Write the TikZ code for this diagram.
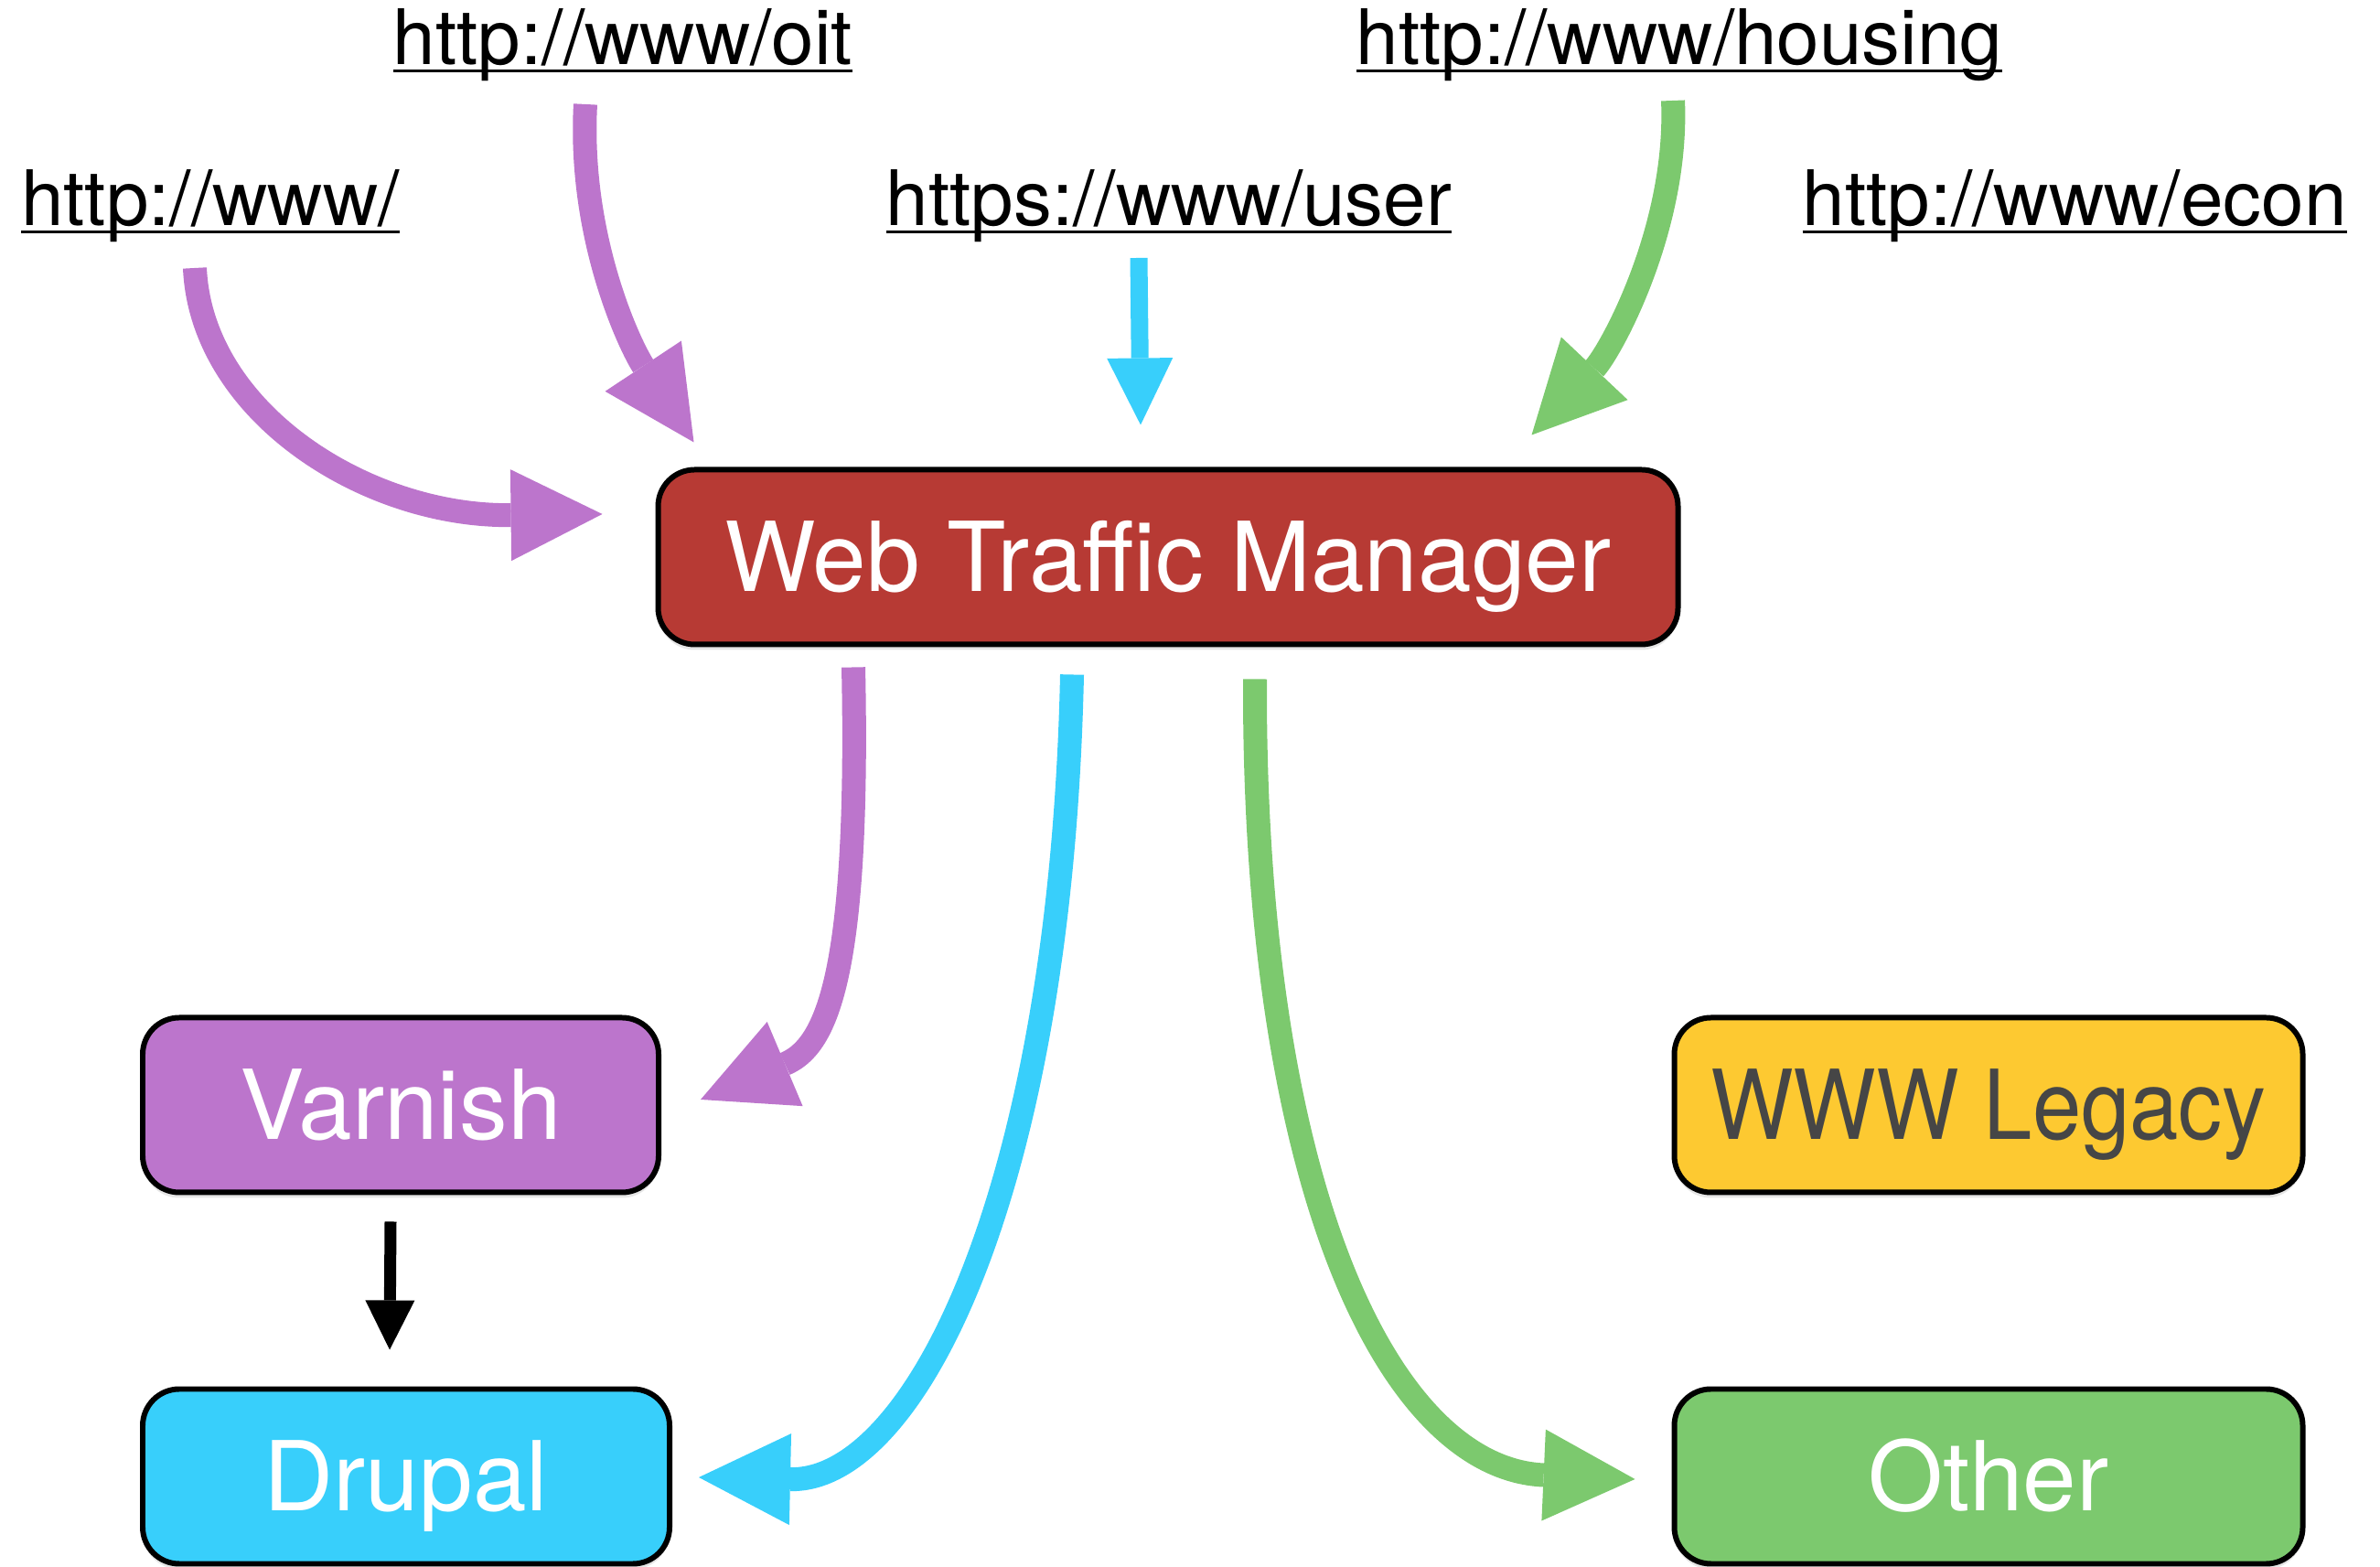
\documentclass[tikz,border=0pt]{standalone}
\usepackage{fontspec}
\setmainfont{TeX Gyre Heros}
\usetikzlibrary{arrows.meta,calc,shadows}
\definecolor{wtmred}{RGB}{183,58,52}
\definecolor{varnishpurple}{RGB}{188,117,204}
\definecolor{drupalblue}{RGB}{56,207,251}
\definecolor{othergreen}{RGB}{124,201,110}
\definecolor{legacyyellow}{RGB}{253,201,49}
\definecolor{legacygray}{RGB}{70,70,70}
\newcommand{\ulink}[1]{\setbox0\hbox{#1}\rlap{\rule[-0.08cm]{\wd0}{0.033cm}}\box0}
\begin{document}
\begin{tikzpicture}[
  url/.style={anchor=base,inner sep=0pt,font=\fontsize{23.8}{28}\selectfont},
  tbox/.style={draw=black,line width=1.7pt,rounded corners=0.4cm,minimum height=1.91cm,
    text height=0.76cm,text depth=0pt,inner sep=0pt,font=\fontsize{30}{36}\selectfont,text=white,
    drop shadow={shadow xshift=0pt,shadow yshift=-0.06cm,opacity=0.2}},
  fat/.style={line width=0.26cm,-{Triangle[length=1cm,width=1cm,line width=0pt]}},
]
\useasboundingbox (0,0) rectangle (26.02,17.13);
%
\node[url] (www) at (2.30,14.66) {\ulink{http://www/}};
\node[url] (oit) at (6.81,16.42) {\ulink{http://www/oit}};
\node[url] (user) at (12.78,14.66) {\ulink{https://www/user}};
\node[url] (housing) at (18.36,16.42) {\ulink{http://www/housing}};
\node[url] (econ) at (22.68,14.66) {\ulink{http://www/econ}};
%
\node[tbox,fill=wtmred,minimum width=11.15cm] (wtm) at (12.77,11.04) {Web Traffic Manager};
\node[tbox,fill=varnishpurple,minimum width=5.64cm] (varnish) at (4.38,5.05) {Varnish};
\node[tbox,fill=drupalblue,minimum width=5.76cm] (drupal) at (4.44,0.99) {Drupal};
\node[tbox,fill=legacyyellow,text=legacygray,minimum width=6.87cm] (legacy) at (21.74,5.05) {\scalebox{0.91}[1]{WWW Legacy}};
\node[tbox,fill=othergreen,minimum width=6.87cm] (other) at (21.74,0.99) {Other};
%
\draw[fat,varnishpurple] ($(www.base)+(-0.17,-0.46)$) .. controls +(0.07,-1.57) and +(-2.59,-0.03) .. ($(wtm.west)+(-0.58,0.47)$);
\draw[fat,varnishpurple] ($(oit.base)+(-0.41,-0.43)$) .. controls +(-0.08,-1.46) and +(-0.69,1.04) .. ($(wtm.north west)+(0.42,0.27)$);
\draw[drupalblue,line width=0.19cm,-{Triangle[length=0.73cm,width=0.72cm,line width=0pt]}] ($(user.base)+(-0.33,-0.35)$) -- ($(wtm.north)+(-0.30,0.46)$);
\draw[fat,othergreen] ($(housing.base)+(-0.07,-0.39)$) .. controls +(0.06,-1.40) and +(0.86,0.91) .. ($(wtm.north east)+(-1.63,0.35)$);
%
\draw[fat,varnishpurple] ($(wtm.south)+(-3.44,-0.22)$) .. controls +(0.07,-3.46) and +(1.35,0.57) .. ($(varnish.east)+(0.43,0.06)$);
\draw[fat,drupalblue] ($(wtm.south)+(-1.05,-0.30)$) .. controls +(-0.12,-5.63) and +(2.36,-0.05) .. ($(drupal.east)+(0.29,-0.01)$);
\draw[fat,othergreen] ($(wtm.south)+(0.95,-0.35)$) .. controls +(-0.02,-5.58) and +(-2.68,0.12) .. ($(other.west)+(-0.40,-0.03)$);
\draw[line width=0.13cm,-{Triangle[length=0.54cm,width=0.54cm,line width=0pt]}] ($(varnish.south)+(-0.11,-0.29)$) -- ($(drupal.north)+(-0.18,0.40)$);
\end{tikzpicture}
\end{document}
